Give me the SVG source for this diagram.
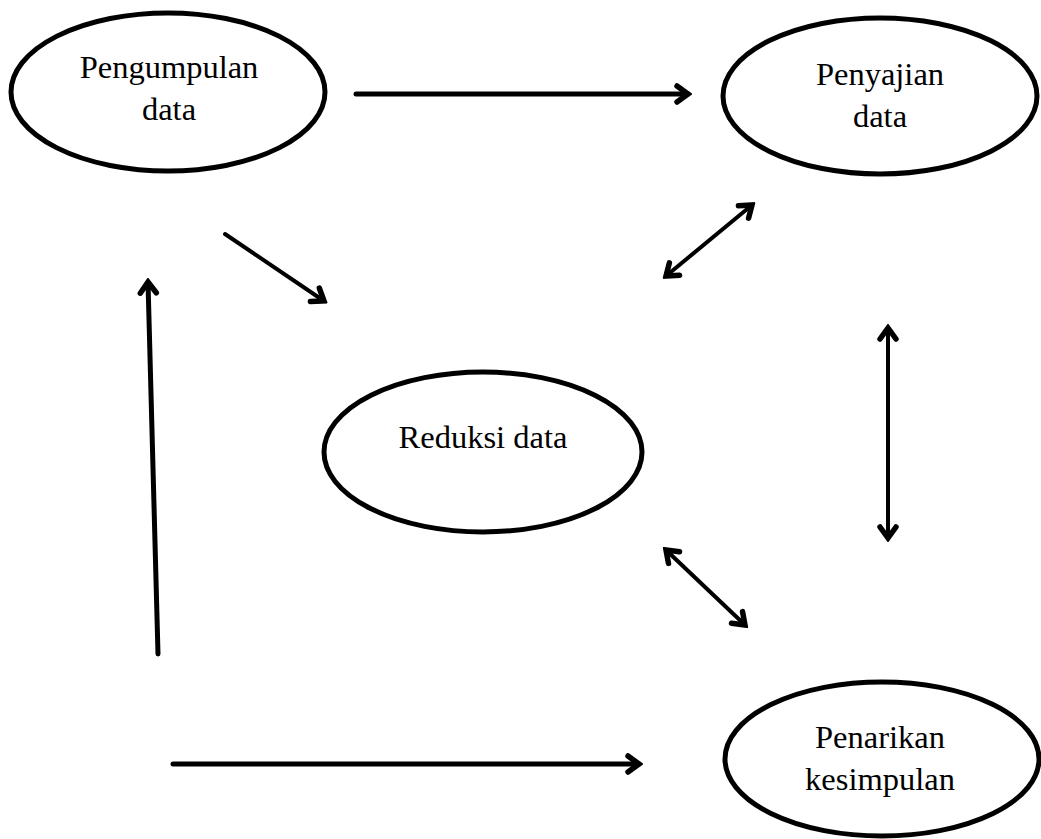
<svg xmlns="http://www.w3.org/2000/svg" width="1041" height="839" viewBox="0 0 1041 839">
<style>
.node ellipse{fill:#fff;stroke:#000;stroke-width:5}
.node text{font-family:"Liberation Serif","Times New Roman",serif;font-size:32.5px;fill:#000;text-anchor:middle}
.conn line{stroke:#000;stroke-width:5;stroke-linecap:round}
.thin line{stroke-width:4}
</style>
<defs>
<marker id="ah" markerUnits="userSpaceOnUse" viewBox="-20 -12 24 24" refX="0" refY="0" markerWidth="24" markerHeight="24" orient="auto-start-reverse">
<path d="M-11,-8 L0,0 L-11,8" fill="none" stroke="#000" stroke-width="5.5" stroke-linejoin="miter" stroke-linecap="round"/>
</marker>
</defs>
<rect width="1041" height="839" fill="#fff"/>
<g id="pengumpulan" class="node">
<ellipse cx="168" cy="92" rx="157" ry="79"/>
<text x="169" y="78">Pengumpulan</text>
<text x="169" y="120">data</text>
</g>
<g id="penyajian" class="node">
<ellipse cx="880" cy="96" rx="157" ry="78"/>
<text x="880" y="85">Penyajian</text>
<text x="880" y="127">data</text>
</g>
<g id="reduksi" class="node">
<ellipse cx="483" cy="452" rx="159" ry="80"/>
<text x="483" y="448">Reduksi data</text>
</g>
<g id="penarikan" class="node">
<ellipse cx="882" cy="759" rx="157" ry="77"/>
<text x="880" y="748">Penarikan</text>
<text x="880" y="790">kesimpulan</text>
</g>
<g id="connectors" class="conn">
<line x1="356" y1="94" x2="688" y2="94" marker-end="url(#ah)"/>
<line x1="173" y1="764" x2="639" y2="764" marker-end="url(#ah)"/>
<line x1="158" y1="654" x2="148" y2="282" marker-end="url(#ah)"/>
<g class="thin">
<line x1="225" y1="234" x2="324" y2="301" marker-end="url(#ah)"/>
<line x1="666" y1="276" x2="752" y2="205" marker-start="url(#ah)" marker-end="url(#ah)"/>
<line x1="888" y1="328" x2="888" y2="538" marker-start="url(#ah)" marker-end="url(#ah)"/>
<line x1="666" y1="550" x2="745" y2="625" marker-start="url(#ah)" marker-end="url(#ah)"/>
</g>
</g>
</svg>
